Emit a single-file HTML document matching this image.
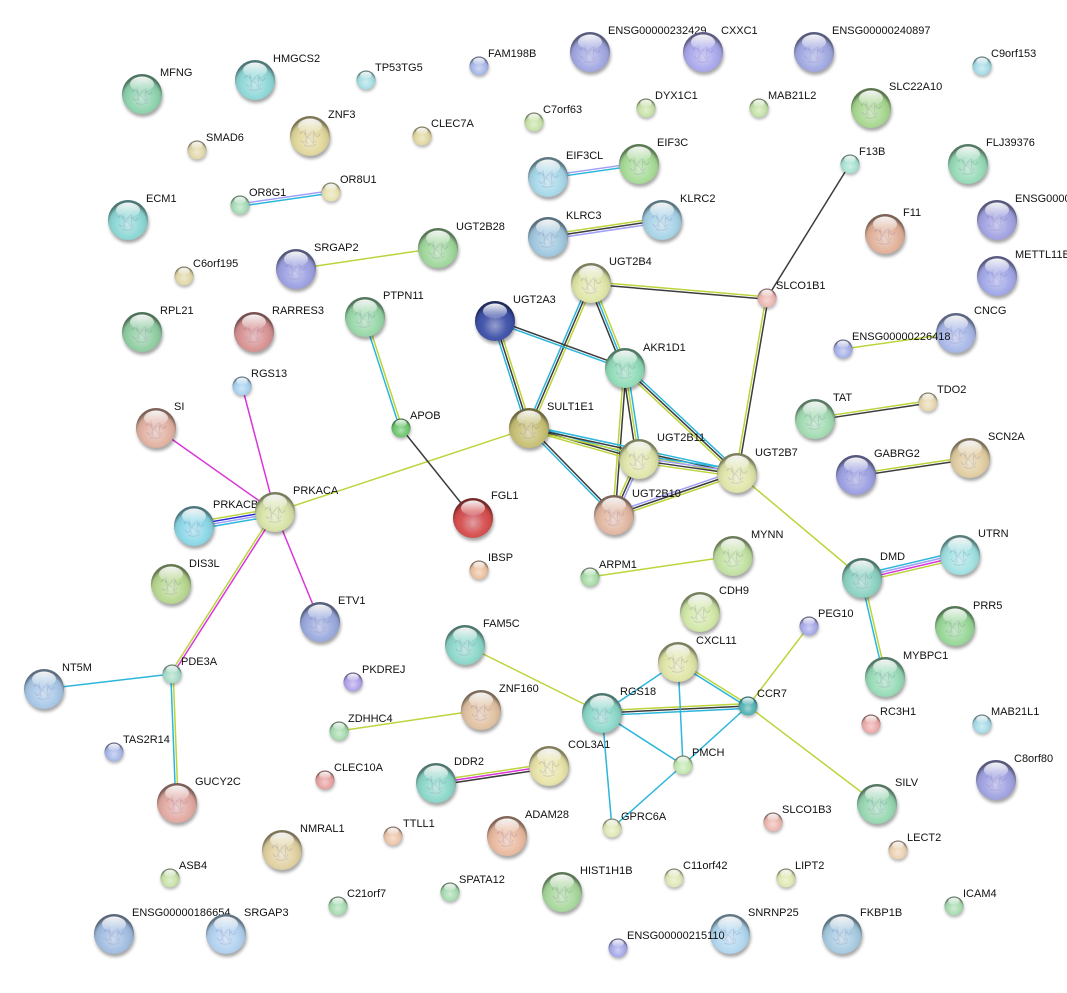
<!DOCTYPE html>
<html><head><meta charset="utf-8"><style>
html,body{margin:0;padding:0;background:#fff;}
svg{display:block;}
text{font-family:"Liberation Sans",Arial,sans-serif;font-size:11px;fill:#111;}
</style></head><body>
<svg width="1067" height="993" viewBox="0 0 1067 993" xmlns="http://www.w3.org/2000/svg">
<defs>
<radialGradient id="sh" cx="0.5" cy="0.62" r="0.55">
<stop offset="0" stop-color="#fff" stop-opacity="0.45"/>
<stop offset="0.55" stop-color="#fff" stop-opacity="0.05"/>
<stop offset="0.85" stop-color="#000" stop-opacity="0.08"/>
<stop offset="1" stop-color="#000" stop-opacity="0.45"/>
</radialGradient>
<linearGradient id="hl" x1="0" y1="0" x2="0" y2="1"><stop offset="0" stop-color="#fff" stop-opacity="0.95"/><stop offset="1" stop-color="#fff" stop-opacity="0.12"/></linearGradient>
<filter id="bl" x="-50%" y="-50%" width="200%" height="200%"><feGaussianBlur stdDeviation="1.5"/></filter>
<g id="B"><path d="M-10,-2 q3,-5 5,0 t5,0 t5,0 t5,0 M-9,4 q3,5 5,0 t5,0 t5,0 M-5,-7 l2,15 M4,-6 l-1,14 M-6,9 q6,3 12,-1" fill="none" stroke="#6a5a9a" stroke-opacity="0.28" stroke-width="1"/><circle r="20" fill="url(#sh)"/><ellipse cy="-10" rx="12" ry="7.5" fill="url(#hl)"/></g>
<g id="S"><circle r="9.5" fill="url(#sh)"/><ellipse cy="-4.8" rx="5.8" ry="3.6" fill="url(#hl)"/></g>
<g id="BS"><circle cx="1" cy="3" r="20" fill="#000" opacity="0.35" filter="url(#bl)"/></g>
<g id="SS"><circle cx="0.5" cy="2" r="9.5" fill="#000" opacity="0.3" filter="url(#bl)"/></g>
</defs>

<!-- edges -->
<g fill="none" stroke-width="1.5">
<g transform="translate(240 205) rotate(-8.13)"><path d="M0 -1.2H92" stroke="#a0a0f8"/><path d="M0 1.2H92" stroke="#2cb6dc"/></g>
<g transform="translate(548 177) rotate(-8.13)"><path d="M0 -1.2H92" stroke="#a0a0f8"/><path d="M0 1.2H92" stroke="#2cb6dc"/></g>
<g transform="translate(548 237) rotate(-8.48)"><path d="M0 -2.4H115" stroke="#bcd43c"/><path d="M0 0H115" stroke="#3c3c3c"/><path d="M0 2.4H115" stroke="#a0a0f8"/></g>
<g transform="translate(591 283) rotate(4.87)"><path d="M0 -1.2H177" stroke="#bcd43c"/><path d="M0 1.2H177" stroke="#3c3c3c"/></g>
<g transform="translate(767 298) rotate(99.73)"><path d="M0 1.2H178" stroke="#bcd43c"/><path d="M0 -1.2H178" stroke="#3c3c3c"/></g>
<g transform="translate(591 283) rotate(113.15)"><path d="M0 2.4H158" stroke="#2cb6dc"/><path d="M0 0H158" stroke="#3c3c3c"/><path d="M0 -2.4H158" stroke="#bcd43c"/></g>
<g transform="translate(591 283) rotate(68.2)"><path d="M0 2.4H92" stroke="#3c3c3c"/><path d="M0 0H92" stroke="#2cb6dc"/><path d="M0 -2.4H92" stroke="#bcd43c"/></g>
<g transform="translate(495 321) rotate(19.87)"><path d="M0 -1.2H138" stroke="#3c3c3c"/><path d="M0 1.2H138" stroke="#2cb6dc"/></g>
<g transform="translate(495 321) rotate(72.37)"><path d="M0 2.4H112" stroke="#2cb6dc"/><path d="M0 0H112" stroke="#3c3c3c"/><path d="M0 -2.4H112" stroke="#bcd43c"/></g>
<g transform="translate(625 368) rotate(81.25)"><path d="M0 2.4H92" stroke="#3c3c3c"/><path d="M0 0H92" stroke="#bcd43c"/><path d="M0 -2.4H92" stroke="#2cb6dc"/></g>
<g transform="translate(625 368) rotate(94.28)"><path d="M0 1.2H147" stroke="#bcd43c"/><path d="M0 -1.2H147" stroke="#3c3c3c"/></g>
<g transform="translate(625 368) rotate(43.15)"><path d="M0 2.4H154" stroke="#bcd43c"/><path d="M0 0H154" stroke="#3c3c3c"/><path d="M0 -2.4H154" stroke="#2cb6dc"/></g>
<g transform="translate(529 428) rotate(15.74)"><path d="M0 -2.4H114" stroke="#2cb6dc"/><path d="M0 0H114" stroke="#3c3c3c"/><path d="M0 2.4H114" stroke="#bcd43c"/></g>
<g transform="translate(529 428) rotate(45.66)"><path d="M0 -1.2H122" stroke="#3c3c3c"/><path d="M0 1.2H122" stroke="#2cb6dc"/></g>
<g transform="translate(529 428) rotate(12.21)"><path d="M0 -2.4H213" stroke="#2cb6dc"/><path d="M0 0H213" stroke="#3c3c3c"/><path d="M0 2.4H213" stroke="#bcd43c"/></g>
<g transform="translate(639 459) rotate(8.13)"><path d="M0 -3.6H99" stroke="#2cb6dc"/><path d="M0 -1.2H99" stroke="#a0a0f8"/><path d="M0 1.2H99" stroke="#3c3c3c"/><path d="M0 3.6H99" stroke="#bcd43c"/></g>
<g transform="translate(639 459) rotate(114.06)"><path d="M0 -2.4H61" stroke="#a0a0f8"/><path d="M0 0H61" stroke="#3c3c3c"/><path d="M0 2.4H61" stroke="#bcd43c"/></g>
<g transform="translate(614 515) rotate(-18.85)"><path d="M0 -2.4H130" stroke="#a0a0f8"/><path d="M0 0H130" stroke="#3c3c3c"/><path d="M0 2.4H130" stroke="#bcd43c"/></g>
<g transform="translate(365 317) rotate(72.03)"><path d="M0 1.2H117" stroke="#2cb6dc"/><path d="M0 -1.2H117" stroke="#bcd43c"/></g>
<g transform="translate(194 526) rotate(-9.81)"><path d="M0 -3.6H82" stroke="#bcd43c"/><path d="M0 -1.2H82" stroke="#2828e0"/><path d="M0 1.2H82" stroke="#a0a0f8"/><path d="M0 3.6H82" stroke="#2cb6dc"/></g>
<g transform="translate(275 512) rotate(122.61)"><path d="M0 1.2H191" stroke="#bcd43c"/><path d="M0 -1.2H191" stroke="#d935d9"/></g>
<g transform="translate(172 674) rotate(87.8)"><path d="M0 1.2H130" stroke="#2cb6dc"/><path d="M0 -1.2H130" stroke="#bcd43c"/></g>
<g transform="translate(815 419) rotate(-8.56)"><path d="M0 -1.2H114" stroke="#bcd43c"/><path d="M0 1.2H114" stroke="#3c3c3c"/></g>
<g transform="translate(856 475) rotate(-8.48)"><path d="M0 -1.2H115" stroke="#bcd43c"/><path d="M0 1.2H115" stroke="#3c3c3c"/></g>
<g transform="translate(862 578) rotate(-13.21)"><path d="M0 -3.6H101" stroke="#2cb6dc"/><path d="M0 -1.2H101" stroke="#a0a0f8"/><path d="M0 1.2H101" stroke="#d935d9"/><path d="M0 3.6H101" stroke="#bcd43c"/></g>
<g transform="translate(862 578) rotate(76.92)"><path d="M0 1.2H102" stroke="#2cb6dc"/><path d="M0 -1.2H102" stroke="#bcd43c"/></g>
<g transform="translate(602 713) rotate(-2.74)"><path d="M0 -2.4H146" stroke="#bcd43c"/><path d="M0 0H146" stroke="#3c3c3c"/><path d="M0 2.4H146" stroke="#2cb6dc"/></g>
<g transform="translate(678 662) rotate(32.15)"><path d="M0 -1.2H83" stroke="#bcd43c"/><path d="M0 1.2H83" stroke="#2cb6dc"/></g>
<g transform="translate(436 783) rotate(-8.56)"><path d="M0 -2.4H114" stroke="#bcd43c"/><path d="M0 0H114" stroke="#d935d9"/><path d="M0 2.4H114" stroke="#3c3c3c"/></g>

<path d="M850 164L767 298" stroke="#3c3c3c"/>
<path d="M296 269L438 248" stroke="#bcd43c"/>
<path d="M529 428L275 512" stroke="#bcd43c"/>
<path d="M737 473L862 578" stroke="#bcd43c"/>
<path d="M401 428L473 518" stroke="#3c3c3c"/>
<path d="M242 386L275 512" stroke="#d935d9"/>
<path d="M156 428L275 512" stroke="#d935d9"/>
<path d="M275 512L320 622" stroke="#d935d9"/>
<path d="M172 674L44 689" stroke="#2cb6dc"/>
<path d="M843 349L956 333" stroke="#bcd43c"/>
<path d="M590 577L733 556" stroke="#bcd43c"/>
<path d="M809 626L748 706" stroke="#bcd43c"/>
<path d="M748 706L877 804" stroke="#bcd43c"/>
<path d="M465 645L602 713" stroke="#bcd43c"/>
<path d="M339 731L481 710" stroke="#bcd43c"/>
<path d="M602 713L678 662" stroke="#2cb6dc"/>
<path d="M678 662L683 765" stroke="#2cb6dc"/>
<path d="M602 713L683 765" stroke="#2cb6dc"/>
<path d="M602 713L612 828" stroke="#2cb6dc"/>
<path d="M748 706L683 765" stroke="#2cb6dc"/>
<path d="M683 765L612 828" stroke="#2cb6dc"/>
</g>

<!-- nodes -->
<g>
<use href="#BS" x="142" y="94"/><circle cx="142" cy="94" r="20" fill="#8ed3ae"/><use href="#B" x="142" y="94"/><text x="160" y="76">MFNG</text>
<use href="#BS" x="255" y="80"/><circle cx="255" cy="80" r="20" fill="#8fd8d8"/><use href="#B" x="255" y="80"/><text x="273" y="62">HMGCS2</text>
<use href="#SS" x="366" y="80"/><circle cx="366" cy="80" r="9.5" fill="#a8dfe4"/><use href="#S" x="366" y="80"/><text x="375" y="71">TP53TG5</text>
<use href="#SS" x="479" y="66"/><circle cx="479" cy="66" r="9.5" fill="#a8b8e8"/><use href="#S" x="479" y="66"/><text x="488" y="57">FAM198B</text>
<use href="#BS" x="590" y="52"/><circle cx="590" cy="52" r="20" fill="#a2a8e2"/><use href="#B" x="590" y="52"/><text x="608" y="34">ENSG00000232429</text>
<use href="#BS" x="703" y="52"/><circle cx="703" cy="52" r="20" fill="#aaa8ec"/><use href="#B" x="703" y="52"/><text x="721" y="34">CXXC1</text>
<use href="#BS" x="814" y="52"/><circle cx="814" cy="52" r="20" fill="#a0a8e2"/><use href="#B" x="814" y="52"/><text x="832" y="34">ENSG00000240897</text>
<use href="#SS" x="982" y="66"/><circle cx="982" cy="66" r="9.5" fill="#a8dce6"/><use href="#S" x="982" y="66"/><text x="991" y="57">C9orf153</text>
<use href="#BS" x="310" y="136"/><circle cx="310" cy="136" r="20" fill="#e2d89c"/><use href="#B" x="310" y="136"/><text x="328" y="118">ZNF3</text>
<use href="#SS" x="197" y="150"/><circle cx="197" cy="150" r="9.5" fill="#e2d8aa"/><use href="#S" x="197" y="150"/><text x="206" y="141">SMAD6</text>
<use href="#SS" x="422" y="136"/><circle cx="422" cy="136" r="9.5" fill="#e2d8a2"/><use href="#S" x="422" y="136"/><text x="431" y="127">CLEC7A</text>
<use href="#SS" x="534" y="122"/><circle cx="534" cy="122" r="9.5" fill="#c8e2a8"/><use href="#S" x="534" y="122"/><text x="543" y="113">C7orf63</text>
<use href="#SS" x="646" y="108"/><circle cx="646" cy="108" r="9.5" fill="#c8e2a8"/><use href="#S" x="646" y="108"/><text x="655" y="99">DYX1C1</text>
<use href="#SS" x="759" y="108"/><circle cx="759" cy="108" r="9.5" fill="#c4e2a8"/><use href="#S" x="759" y="108"/><text x="768" y="99">MAB21L2</text>
<use href="#BS" x="871" y="108"/><circle cx="871" cy="108" r="20" fill="#a8d890"/><use href="#B" x="871" y="108"/><text x="889" y="90">SLC22A10</text>
<use href="#SS" x="850" y="164"/><circle cx="850" cy="164" r="9.5" fill="#a8e2d2"/><use href="#S" x="850" y="164"/><text x="859" y="155">F13B</text>
<use href="#BS" x="968" y="164"/><circle cx="968" cy="164" r="20" fill="#98dcb8"/><use href="#B" x="968" y="164"/><text x="986" y="146">FLJ39376</text>
<use href="#BS" x="548" y="177"/><circle cx="548" cy="177" r="20" fill="#a8d8ea"/><use href="#B" x="548" y="177"/><text x="566" y="159">EIF3CL</text>
<use href="#BS" x="639" y="164"/><circle cx="639" cy="164" r="20" fill="#a8dc98"/><use href="#B" x="639" y="164"/><text x="657" y="146">EIF3C</text>
<use href="#BS" x="128" y="220"/><circle cx="128" cy="220" r="20" fill="#8cd8d6"/><use href="#B" x="128" y="220"/><text x="146" y="202">ECM1</text>
<use href="#SS" x="240" y="205"/><circle cx="240" cy="205" r="9.5" fill="#a8dcb8"/><use href="#S" x="240" y="205"/><text x="249" y="196">OR8G1</text>
<use href="#SS" x="331" y="192"/><circle cx="331" cy="192" r="9.5" fill="#e8e2b2"/><use href="#S" x="331" y="192"/><text x="340" y="183">OR8U1</text>
<use href="#BS" x="438" y="248"/><circle cx="438" cy="248" r="20" fill="#a0d89c"/><use href="#B" x="438" y="248"/><text x="456" y="230">UGT2B28</text>
<use href="#BS" x="548" y="237"/><circle cx="548" cy="237" r="20" fill="#a0c8e0"/><use href="#B" x="548" y="237"/><text x="566" y="219">KLRC3</text>
<use href="#BS" x="662" y="220"/><circle cx="662" cy="220" r="20" fill="#a8d4e8"/><use href="#B" x="662" y="220"/><text x="680" y="202">KLRC2</text>
<use href="#BS" x="885" y="234"/><circle cx="885" cy="234" r="20" fill="#e2b29a"/><use href="#B" x="885" y="234"/><text x="903" y="216">F11</text>
<use href="#BS" x="997" y="220"/><circle cx="997" cy="220" r="20" fill="#a2a2e2"/><use href="#B" x="997" y="220"/><text x="1015" y="202">ENSG00000205832</text>
<use href="#SS" x="184" y="276"/><circle cx="184" cy="276" r="9.5" fill="#e2d8aa"/><use href="#S" x="184" y="276"/><text x="193" y="267">C6orf195</text>
<use href="#BS" x="296" y="269"/><circle cx="296" cy="269" r="20" fill="#9ca0e2"/><use href="#B" x="296" y="269"/><text x="314" y="251">SRGAP2</text>
<use href="#BS" x="591" y="283"/><circle cx="591" cy="283" r="20" fill="#e0e6a8"/><use href="#B" x="591" y="283"/><text x="609" y="265">UGT2B4</text>
<use href="#SS" x="767" y="298"/><circle cx="767" cy="298" r="9.5" fill="#ecb8b2"/><use href="#S" x="767" y="298"/><text x="776" y="289">SLCO1B1</text>
<use href="#BS" x="997" y="276"/><circle cx="997" cy="276" r="20" fill="#a2a8e8"/><use href="#B" x="997" y="276"/><text x="1015" y="258">METTL11B</text>
<use href="#BS" x="142" y="332"/><circle cx="142" cy="332" r="20" fill="#90cea2"/><use href="#B" x="142" y="332"/><text x="160" y="314">RPL21</text>
<use href="#BS" x="254" y="332"/><circle cx="254" cy="332" r="20" fill="#d89292"/><use href="#B" x="254" y="332"/><text x="272" y="314">RARRES3</text>
<use href="#BS" x="365" y="317"/><circle cx="365" cy="317" r="20" fill="#98d8a8"/><use href="#B" x="365" y="317"/><text x="383" y="299">PTPN11</text>
<use href="#BS" x="495" y="321"/><circle cx="495" cy="321" r="20" fill="#3c50a8"/><use href="#B" x="495" y="321"/><text x="513" y="303">UGT2A3</text>
<use href="#BS" x="625" y="368"/><circle cx="625" cy="368" r="20" fill="#90dcb8"/><use href="#B" x="625" y="368"/><text x="643" y="351">AKR1D1</text>
<use href="#BS" x="956" y="333"/><circle cx="956" cy="333" r="20" fill="#a8b8e8"/><use href="#B" x="956" y="333"/><text x="974" y="314">CNCG</text>
<use href="#SS" x="843" y="349"/><circle cx="843" cy="349" r="9.5" fill="#a8b2e8"/><use href="#S" x="843" y="349"/><text x="852" y="340">ENSG00000226418</text>
<use href="#SS" x="242" y="386"/><circle cx="242" cy="386" r="9.5" fill="#a8d2f0"/><use href="#S" x="242" y="386"/><text x="251" y="377">RGS13</text>
<use href="#BS" x="156" y="428"/><circle cx="156" cy="428" r="20" fill="#e2b2a2"/><use href="#B" x="156" y="428"/><text x="174" y="410">SI</text>
<use href="#SS" x="401" y="428"/><circle cx="401" cy="428" r="9.5" fill="#6ec66e"/><use href="#S" x="401" y="428"/><text x="410" y="419">APOB</text>
<use href="#BS" x="529" y="428"/><circle cx="529" cy="428" r="20" fill="#c8c074"/><use href="#B" x="529" y="428"/><text x="547" y="410">SULT1E1</text>
<use href="#BS" x="815" y="419"/><circle cx="815" cy="419" r="20" fill="#a2dcb2"/><use href="#B" x="815" y="419"/><text x="833" y="401">TAT</text>
<use href="#SS" x="928" y="402"/><circle cx="928" cy="402" r="9.5" fill="#e8d8b2"/><use href="#S" x="928" y="402"/><text x="937" y="393">TDO2</text>
<use href="#BS" x="639" y="459"/><circle cx="639" cy="459" r="20" fill="#e0e6aa"/><use href="#B" x="639" y="459"/><text x="657" y="441">UGT2B11</text>
<use href="#BS" x="737" y="473"/><circle cx="737" cy="473" r="20" fill="#e0e6aa"/><use href="#B" x="737" y="473"/><text x="755" y="456">UGT2B7</text>
<use href="#BS" x="970" y="458"/><circle cx="970" cy="458" r="20" fill="#e2cea2"/><use href="#B" x="970" y="458"/><text x="988" y="440">SCN2A</text>
<use href="#BS" x="856" y="475"/><circle cx="856" cy="475" r="20" fill="#9ca0e2"/><use href="#B" x="856" y="475"/><text x="874" y="457">GABRG2</text>
<use href="#BS" x="194" y="526"/><circle cx="194" cy="526" r="20" fill="#8cd8e8"/><use href="#B" x="194" y="526"/><text x="213" y="508">PRKACB</text>
<use href="#BS" x="275" y="512"/><circle cx="275" cy="512" r="20" fill="#d8e4a8"/><use href="#B" x="275" y="512"/><text x="293" y="494">PRKACA</text>
<use href="#BS" x="473" y="518"/><circle cx="473" cy="518" r="20" fill="#d64c4c"/><use href="#B" x="473" y="518"/><text x="491" y="499">FGL1</text>
<use href="#BS" x="614" y="515"/><circle cx="614" cy="515" r="20" fill="#e2b8a2"/><use href="#B" x="614" y="515"/><text x="632" y="497">UGT2B10</text>
<use href="#SS" x="479" y="570"/><circle cx="479" cy="570" r="9.5" fill="#ecc2a2"/><use href="#S" x="479" y="570"/><text x="488" y="561">IBSP</text>
<use href="#SS" x="590" y="577"/><circle cx="590" cy="577" r="9.5" fill="#a8dca8"/><use href="#S" x="590" y="577"/><text x="599" y="568">ARPM1</text>
<use href="#BS" x="733" y="556"/><circle cx="733" cy="556" r="20" fill="#c2e2a2"/><use href="#B" x="733" y="556"/><text x="751" y="538">MYNN</text>
<use href="#BS" x="960" y="555"/><circle cx="960" cy="555" r="20" fill="#a2e2e2"/><use href="#B" x="960" y="555"/><text x="978" y="537">UTRN</text>
<use href="#BS" x="862" y="578"/><circle cx="862" cy="578" r="20" fill="#8cd2c2"/><use href="#B" x="862" y="578"/><text x="880" y="560">DMD</text>
<use href="#BS" x="171" y="584"/><circle cx="171" cy="584" r="20" fill="#b8d890"/><use href="#B" x="171" y="584"/><text x="189" y="567">DIS3L</text>
<use href="#BS" x="700" y="612"/><circle cx="700" cy="612" r="20" fill="#d2e8a8"/><use href="#B" x="700" y="612"/><text x="719" y="594">CDH9</text>
<use href="#BS" x="955" y="626"/><circle cx="955" cy="626" r="20" fill="#98d898"/><use href="#B" x="955" y="626"/><text x="973" y="609">PRR5</text>
<use href="#BS" x="320" y="622"/><circle cx="320" cy="622" r="20" fill="#9aaade"/><use href="#B" x="320" y="622"/><text x="338" y="604">ETV1</text>
<use href="#BS" x="465" y="645"/><circle cx="465" cy="645" r="20" fill="#8cd8ca"/><use href="#B" x="465" y="645"/><text x="483" y="627">FAM5C</text>
<use href="#SS" x="809" y="626"/><circle cx="809" cy="626" r="9.5" fill="#a8aae8"/><use href="#S" x="809" y="626"/><text x="818" y="617">PEG10</text>
<use href="#BS" x="678" y="662"/><circle cx="678" cy="662" r="20" fill="#e0e6a8"/><use href="#B" x="678" y="662"/><text x="696" y="644">CXCL11</text>
<use href="#BS" x="885" y="677"/><circle cx="885" cy="677" r="20" fill="#98dcb8"/><use href="#B" x="885" y="677"/><text x="903" y="659">MYBPC1</text>
<use href="#BS" x="44" y="689"/><circle cx="44" cy="689" r="20" fill="#a8c8e8"/><use href="#B" x="44" y="689"/><text x="62" y="671">NT5M</text>
<use href="#SS" x="172" y="674"/><circle cx="172" cy="674" r="9.5" fill="#a8dcc8"/><use href="#S" x="172" y="674"/><text x="181" y="665">PDE3A</text>
<use href="#SS" x="353" y="682"/><circle cx="353" cy="682" r="9.5" fill="#b2a2e8"/><use href="#S" x="353" y="682"/><text x="362" y="673">PKDREJ</text>
<use href="#BS" x="481" y="710"/><circle cx="481" cy="710" r="20" fill="#e2c2a2"/><use href="#B" x="481" y="710"/><text x="499" y="692">ZNF160</text>
<use href="#BS" x="602" y="713"/><circle cx="602" cy="713" r="20" fill="#8cd8ca"/><use href="#B" x="602" y="713"/><text x="620" y="695">RGS18</text>
<use href="#SS" x="748" y="706"/><circle cx="748" cy="706" r="9.5" fill="#52b2b2"/><use href="#S" x="748" y="706"/><text x="757" y="697">CCR7</text>
<use href="#SS" x="339" y="731"/><circle cx="339" cy="731" r="9.5" fill="#a8dcb0"/><use href="#S" x="339" y="731"/><text x="348" y="722">ZDHHC4</text>
<use href="#SS" x="871" y="724"/><circle cx="871" cy="724" r="9.5" fill="#ecacaa"/><use href="#S" x="871" y="724"/><text x="880" y="715">RC3H1</text>
<use href="#SS" x="982" y="724"/><circle cx="982" cy="724" r="9.5" fill="#a8dce8"/><use href="#S" x="982" y="724"/><text x="991" y="715">MAB21L1</text>
<use href="#SS" x="114" y="752"/><circle cx="114" cy="752" r="9.5" fill="#a8b8e8"/><use href="#S" x="114" y="752"/><text x="123" y="743">TAS2R14</text>
<use href="#SS" x="325" y="780"/><circle cx="325" cy="780" r="9.5" fill="#e8a2a2"/><use href="#S" x="325" y="780"/><text x="334" y="771">CLEC10A</text>
<use href="#BS" x="436" y="783"/><circle cx="436" cy="783" r="20" fill="#8cd8ca"/><use href="#B" x="436" y="783"/><text x="454" y="765">DDR2</text>
<use href="#BS" x="549" y="766"/><circle cx="549" cy="766" r="20" fill="#e8e4a8"/><use href="#B" x="549" y="766"/><text x="568" y="748">COL3A1</text>
<use href="#SS" x="683" y="765"/><circle cx="683" cy="765" r="9.5" fill="#c2e8b2"/><use href="#S" x="683" y="765"/><text x="692" y="756">PMCH</text>
<use href="#BS" x="877" y="804"/><circle cx="877" cy="804" r="20" fill="#98d8b2"/><use href="#B" x="877" y="804"/><text x="895" y="786">SILV</text>
<use href="#BS" x="996" y="780"/><circle cx="996" cy="780" r="20" fill="#a0a2e2"/><use href="#B" x="996" y="780"/><text x="1014" y="762">C8orf80</text>
<use href="#BS" x="177" y="803"/><circle cx="177" cy="803" r="20" fill="#e2aaa2"/><use href="#B" x="177" y="803"/><text x="195" y="785">GUCY2C</text>
<use href="#BS" x="282" y="850"/><circle cx="282" cy="850" r="20" fill="#e2d2a2"/><use href="#B" x="282" y="850"/><text x="300" y="832">NMRAL1</text>
<use href="#SS" x="393" y="836"/><circle cx="393" cy="836" r="9.5" fill="#ecc6aa"/><use href="#S" x="393" y="836"/><text x="403" y="827">TTLL1</text>
<use href="#BS" x="507" y="836"/><circle cx="507" cy="836" r="20" fill="#eabaa0"/><use href="#B" x="507" y="836"/><text x="525" y="818">ADAM28</text>
<use href="#SS" x="612" y="828"/><circle cx="612" cy="828" r="9.5" fill="#e0e8b8"/><use href="#S" x="612" y="828"/><text x="621" y="820">GPRC6A</text>
<use href="#SS" x="773" y="822"/><circle cx="773" cy="822" r="9.5" fill="#ecb8b0"/><use href="#S" x="773" y="822"/><text x="782" y="813">SLCO1B3</text>
<use href="#SS" x="898" y="850"/><circle cx="898" cy="850" r="9.5" fill="#ecd2b2"/><use href="#S" x="898" y="850"/><text x="907" y="841">LECT2</text>
<use href="#SS" x="170" y="878"/><circle cx="170" cy="878" r="9.5" fill="#c8e2a8"/><use href="#S" x="170" y="878"/><text x="179" y="869">ASB4</text>
<use href="#SS" x="674" y="878"/><circle cx="674" cy="878" r="9.5" fill="#e0e8b8"/><use href="#S" x="674" y="878"/><text x="683" y="869">C11orf42</text>
<use href="#SS" x="786" y="878"/><circle cx="786" cy="878" r="9.5" fill="#e0e8b2"/><use href="#S" x="786" y="878"/><text x="795" y="869">LIPT2</text>
<use href="#SS" x="450" y="892"/><circle cx="450" cy="892" r="9.5" fill="#a8dcb2"/><use href="#S" x="450" y="892"/><text x="459" y="883">SPATA12</text>
<use href="#BS" x="562" y="892"/><circle cx="562" cy="892" r="20" fill="#a8d89c"/><use href="#B" x="562" y="892"/><text x="580" y="874">HIST1H1B</text>
<use href="#SS" x="338" y="906"/><circle cx="338" cy="906" r="9.5" fill="#a8dcb2"/><use href="#S" x="338" y="906"/><text x="347" y="897">C21orf7</text>
<use href="#SS" x="954" y="906"/><circle cx="954" cy="906" r="9.5" fill="#a8dcb2"/><use href="#S" x="954" y="906"/><text x="963" y="897">ICAM4</text>
<use href="#BS" x="114" y="934"/><circle cx="114" cy="934" r="20" fill="#a2bee2"/><use href="#B" x="114" y="934"/><text x="132" y="916">ENSG00000186654</text>
<use href="#BS" x="226" y="934"/><circle cx="226" cy="934" r="20" fill="#b2d2f0"/><use href="#B" x="226" y="934"/><text x="244" y="916">SRGAP3</text>
<use href="#BS" x="730" y="934"/><circle cx="730" cy="934" r="20" fill="#b2d8f0"/><use href="#B" x="730" y="934"/><text x="748" y="916">SNRNP25</text>
<use href="#BS" x="842" y="934"/><circle cx="842" cy="934" r="20" fill="#a8cce2"/><use href="#B" x="842" y="934"/><text x="860" y="916">FKBP1B</text>
<use href="#SS" x="618" y="948"/><circle cx="618" cy="948" r="9.5" fill="#a8aae8"/><use href="#S" x="618" y="948"/><text x="627" y="939">ENSG00000215110</text>
</g>
</svg>
</body></html>
